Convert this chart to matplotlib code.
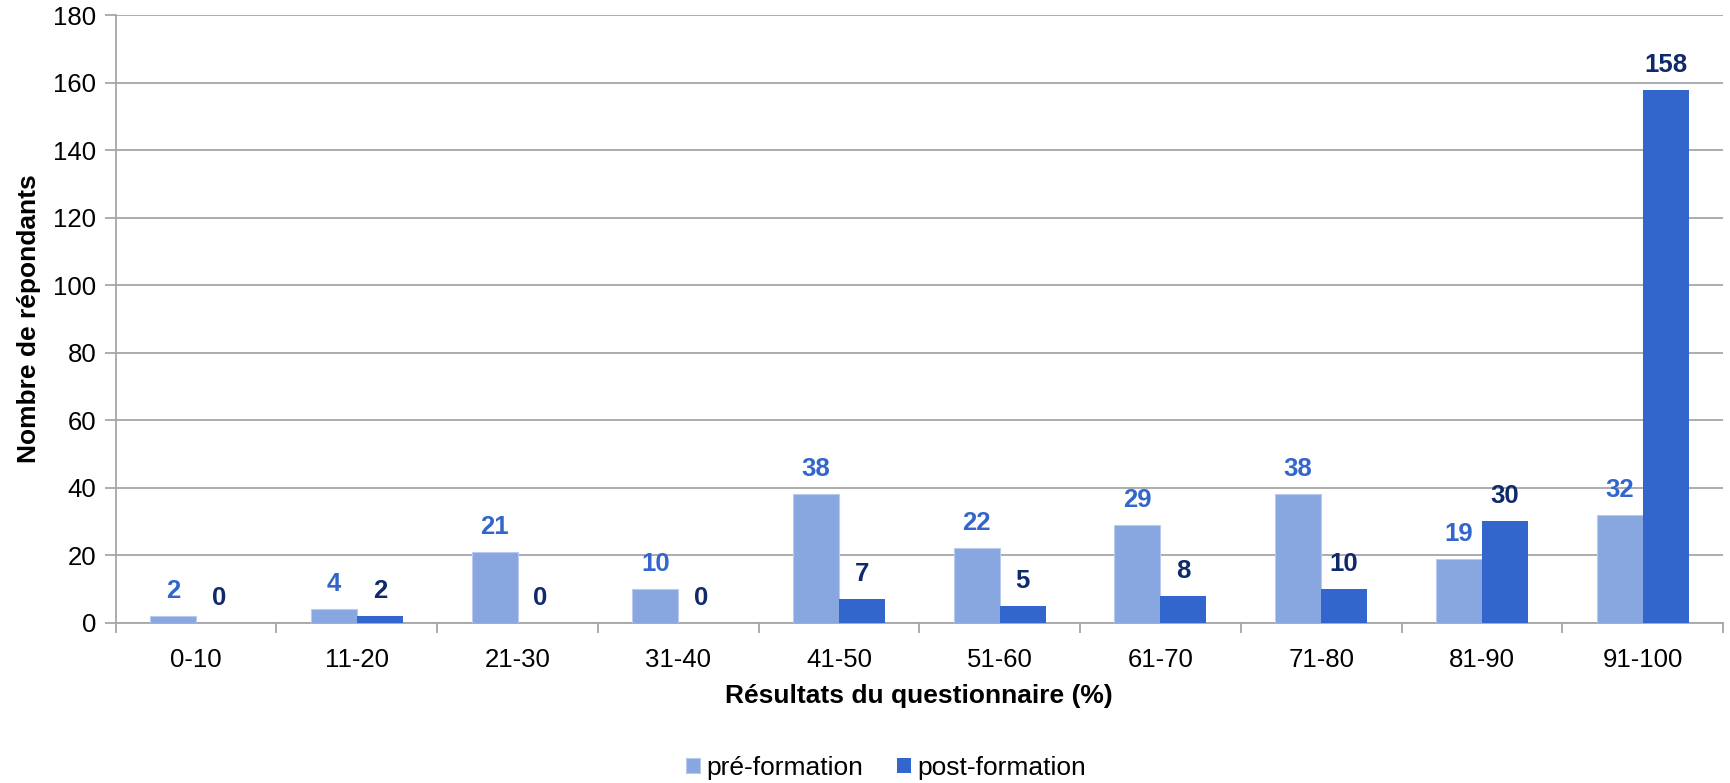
import matplotlib
matplotlib.use("Agg")
import matplotlib.pyplot as plt
import numpy as np

categories = ["0-10", "11-20", "21-30", "31-40", "41-50", "51-60", "61-70", "71-80", "81-90", "91-100"]
pre_formation = [2, 4, 21, 10, 38, 22, 29, 38, 19, 32]
post_formation = [0, 2, 0, 0, 7, 5, 8, 10, 30, 158]
series_names = ["pré-formation", "post-formation"]
y_ticks = [0, 20, 40, 60, 80, 100, 120, 140, 160, 180]

plt.rcParams['font.family'] = ['Liberation Sans', 'DejaVu Sans']
FS = 18.5

W, H = 1730, 783
fig = plt.figure(figsize=(W / 100, H / 100), dpi=100)
ax = fig.add_axes([115.7 / W, 1 - 622.7 / H, (1723 - 115.7) / W, (622.7 - 15.3) / H])

x = np.arange(len(categories))
bw = 0.286
c_pre = "#88A6E0"
c_post = "#3366CC"
b1 = ax.bar(x - bw / 2, pre_formation, bw, color=c_pre, edgecolor="#B8CBEF", linewidth=0.8,
            label=series_names[0], zorder=3)
b2 = ax.bar(x + bw / 2, post_formation, bw, color=c_post, label=series_names[1], zorder=3)

for xi, v in zip(x, pre_formation):
    ax.annotate(str(v), (xi - bw / 2, v), xytext=(0, 18), textcoords="offset points",
                ha="center", va="center", fontsize=FS, fontweight="bold", color="#3366CC")
for xi, v in zip(x, post_formation):
    ax.annotate(str(v), (xi + bw / 2, v), xytext=(0, 18), textcoords="offset points",
                ha="center", va="center", fontsize=FS, fontweight="bold", color="#0E2A6A")

ax.set_xlim(-0.5, len(categories) - 0.5)
ax.set_ylim(0, 180)
ax.set_yticks(y_ticks)
ax.yaxis.grid(True, color="#A6A6A6", linewidth=1.3, zorder=0)
ax.set_axisbelow(True)

ax.set_xticks(x)
ax.set_xticklabels(categories, fontsize=FS)
ax.tick_params(axis="x", length=0, pad=18)
ax.set_xticks(np.arange(-0.5, len(categories)), minor=True)
ax.tick_params(axis="x", which="minor", length=7, color="#A6A6A6", width=1.3)
ax.tick_params(axis="y", labelsize=FS, length=8, color="#A6A6A6", width=1.3, pad=6)

for s in ["top", "right"]:
    ax.spines[s].set_visible(False)
ax.spines["left"].set_color("#A6A6A6")
ax.spines["left"].set_linewidth(1.3)
ax.spines["bottom"].set_color("#A6A6A6")
ax.spines["bottom"].set_linewidth(1.3)

ax.set_xlabel("Résultats du questionnaire (%)", fontsize=19, fontweight="bold", labelpad=9)
ax.set_ylabel("Nombre de répondants", fontsize=19, fontweight="bold", labelpad=9)

fig.legend(handles=[b1, b2], labels=series_names, loc="center", bbox_to_anchor=(886 / W, 1 - 768 / H),
           ncol=2, frameon=False, fontsize=19, handlelength=0.53, handleheight=0.53,
           handletextpad=0.23, columnspacing=1.29, borderpad=0, borderaxespad=0)

fig.savefig("out.png", dpi=100)
